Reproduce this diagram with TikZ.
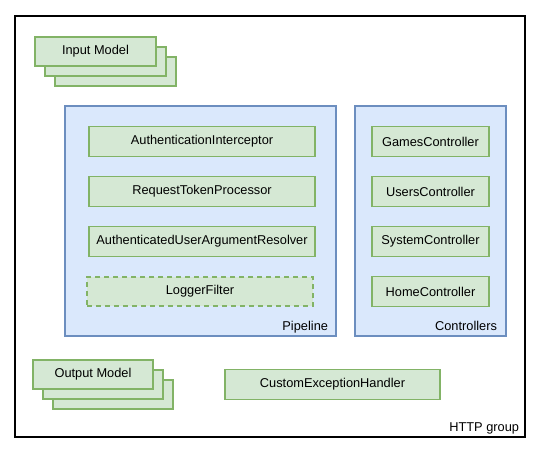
\documentclass[tikz,border=0pt]{standalone}
\usepackage{fontspec}
\setmainfont{Liberation Sans}
\definecolor{gfill}{HTML}{D5E8D4}
\definecolor{gdraw}{HTML}{82B366}
\definecolor{bfill}{HTML}{DAE8FC}
\definecolor{bdraw}{HTML}{6C8EBF}
\begin{document}
\begin{tikzpicture}[x=1pt,y=-1pt,
  every node/.style={font=\fontsize{12.8}{15}\selectfont, inner sep=0pt, outer sep=0pt},
  gbox/.style={rectangle, draw=gdraw, fill=gfill, line width=1.5pt},
  bbox/.style={rectangle, draw=bdraw, fill=bfill, line width=1.3pt},
  outerbox/.style={rectangle, draw=black, fill=white, line width=1.6pt},
  lbl/.style={anchor=base east}]
\useasboundingbox (0,0) rectangle (543,452);
% outer group
\node[outerbox, minimum width=510pt, minimum height=421pt] (http) at (270,226.5) {};
\node[lbl] (httplbl) at (519,431) {HTTP group};
% input model stack
\node[gbox, minimum width=121pt, minimum height=29pt] (in3) at (115.5,71.5) {};
\node[gbox, minimum width=121pt, minimum height=29pt] (in2) at (105.5,61.5) {};
\node[gbox, minimum width=121pt, minimum height=29pt] (in1) at (95.5,51.5) {Input Model};
% pipeline
\node[bbox, minimum width=271pt, minimum height=230pt] (pipe) at (200.5,221) {};
\node[lbl] (pipelbl) at (328,330) {Pipeline};
\node[gbox, minimum width=226pt, minimum height=30pt] (p1) at (202,141.5) {AuthenticationInterceptor};
\node[gbox, minimum width=226pt, minimum height=30pt] (p2) at (202,191.5) {RequestTokenProcessor};
\node[gbox, minimum width=226pt, minimum height=30pt] (p3) at (202,241.5) {AuthenticatedUserArgumentResolver};
\node[gbox, dashed, dash pattern=on 5pt off 4pt, minimum width=226pt, minimum height=29pt] (p4) at (200,291.5) {LoggerFilter};
% controllers
\node[bbox, minimum width=151pt, minimum height=230pt] (ctrl) at (430.5,221) {};
\node[lbl] (ctrllbl) at (497,330) {Controllers};
\node[gbox, minimum width=117pt, minimum height=30pt] (c1) at (430.5,141.5) {GamesController};
\node[gbox, minimum width=117pt, minimum height=30pt] (c2) at (430.5,191.5) {UsersController};
\node[gbox, minimum width=117pt, minimum height=30pt] (c3) at (430.5,241.5) {SystemController};
\node[gbox, minimum width=117pt, minimum height=30pt] (c4) at (430.5,291.5) {HomeController};
% output model stack
\node[gbox, minimum width=120pt, minimum height=29pt] (out3) at (113,394.5) {};
\node[gbox, minimum width=120pt, minimum height=29pt] (out2) at (103,384.5) {};
\node[gbox, minimum width=120pt, minimum height=29pt] (out1) at (93,374.5) {Output Model};
% exception handler
\node[gbox, minimum width=215pt, minimum height=30pt] (exc) at (332.5,384.5) {CustomExceptionHandler};
\end{tikzpicture}
\end{document}
